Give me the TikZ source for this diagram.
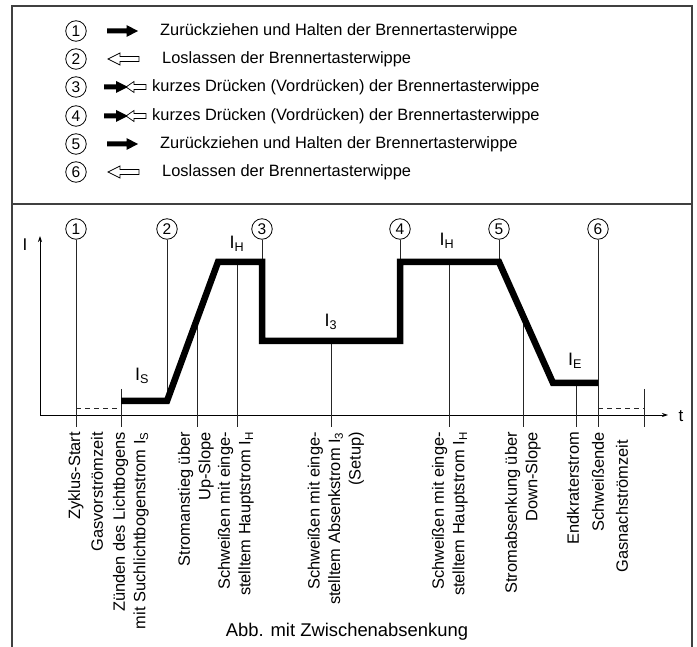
\documentclass[tikz,border=0pt]{standalone}
\usepackage{fontspec}
\setmainfont{Liberation Sans}
\usetikzlibrary{arrows.meta,calc}

\begin{document}
\begin{tikzpicture}[
  x=1pt, y=-1pt,
  frame/.style={line width=1.2pt, black!75},
  num/.style={circle, draw, line width=0.8pt, minimum size=20.5pt, inner sep=0pt, font=\fontsize{15.5}{15.5}\selectfont},
  legtext/.style={anchor=west, inner sep=0pt, font=\fontsize{16.4}{18}\selectfont},
  marker/.style={line width=0.8pt, black!85},
  gas/.style={marker, dash pattern=on 5pt off 4pt},
  current/.style={line width=6.5pt, line join=miter, line cap=butt},
  curlabel/.style={font=\fontsize{18}{18}\selectfont},
  phase/.style={rotate=90, anchor=east, align=right, inner sep=0pt, font=\fontsize{16.4}{20.5}\selectfont},
  axis/.style={line width=0.8pt, -{Stealth[length=6pt, width=4pt]}},
  pullarrow/.pic={\fill (-15.5,-2.5) -- (4,-2.5) -- (4,-6) -- (15.5,0) -- (4,6) -- (4,2.5) -- (-15.5,2.5) -- cycle;},
  releasearrow/.pic={\filldraw[fill=white, line width=0.7pt] (-15.5,0) -- (-3.5,-6) -- (-3.5,-2.5) -- (15.5,-2.5) -- (15.5,2.5) -- (-3.5,2.5) -- (-3.5,6) -- cycle;},
  pressarrow/.pic={
    \filldraw[fill=white, line width=0.7pt] (1,0) -- (9,-5.5) -- (9,-2.5) -- (21,-2.5) -- (21,2.5) -- (9,2.5) -- (9,5.5) -- cycle;
    \fill (-21,-2.5) -- (-9,-2.5) -- (-9,-6) -- (3,0) -- (-9,6) -- (-9,2.5) -- (-21,2.5) -- cycle;}
]
  \useasboundingbox (0,0) rectangle (697,647);

  % Frame (open at the bottom)
  \draw[frame] (12,647) -- (12,6) -- (692,6) -- (692,647);
  \draw[frame] (12,204) -- (692,204);

  % Legend
  \node[num] (l1) at (76,31) {1};
  \node[num] (l2) at (76,59) {2};
  \node[num] (l3) at (76,87) {3};
  \node[num] (l4) at (76,116) {4};
  \node[num] (l5) at (76,144) {5};
  \node[num] (l6) at (76,172) {6};
  \pic at (122.5,31) {pullarrow};
  \pic at (123.5,59) {releasearrow};
  \pic at (125,87) {pressarrow};
  \pic at (125,116) {pressarrow};
  \pic at (122.5,144) {pullarrow};
  \pic at (123.5,172) {releasearrow};
  \node[legtext] (t1) at (160,31) {Zurückziehen und Halten der Brennertasterwippe};
  \node[legtext] (t2) at (162,59) {Loslassen der Brennertasterwippe};
  \node[legtext] (t3) at (152,87) {kurzes Drücken (Vordrücken) der Brennertasterwippe};
  \node[legtext] (t4) at (152,116) {kurzes Drücken (Vordrücken) der Brennertasterwippe};
  \node[legtext] (t5) at (160,144) {Zurückziehen und Halten der Brennertasterwippe};
  \node[legtext] (t6) at (162,172) {Loslassen der Brennertasterwippe};

  % Axes
  \coordinate (o) at (40,415);
  \coordinate (tk) at (0,427);
  \draw[axis] (o) -- (40,236);
  \draw[axis] (o) -- (668,415);
  \node[font=\fontsize{17}{17}\selectfont] (ilabel) at (25,245) {I};
  \node[font=\fontsize{17}{17}\selectfont] (tlabel) at (681,416) {t};

  % Current curve
  \coordinate (c0) at (121,401);
  \coordinate (c1) at (167,401);
  \coordinate (c2) at (218,262);
  \coordinate (c3) at (262,262);
  \coordinate (c4) at (262,341);
  \coordinate (c5) at (400,341);
  \coordinate (c6) at (400,262);
  \coordinate (c7) at (499,262);
  \coordinate (c8) at (553,383);
  \coordinate (c9) at (598,383);
  \coordinate (u) at ($(c1)!0.59!(c2)$);
  \coordinate (d) at ($(c7)!0.46!(c8)$);

  % Switching points
  \node[num] (n1) at (76,229) {1};
  \node[num] (n2) at (167,229) {2};
  \node[num] (n3) at (262,229) {3};
  \node[num] (n4) at (400,229) {4};
  \node[num] (n5) at (499,229) {5};
  \node[num] (n6) at (598,229) {6};
  \draw[marker] (n1) -- (n1 |- tk);
  \draw[marker] (n2) -- (c1);
  \draw[marker] (n3) -- (c3);
  \draw[marker] (n4) -- (c6);
  \draw[marker] (n5) -- (c7);
  \draw[marker] (n6) -- (n6 |- tk);
  \draw[marker] (121,389) -- (121,427);
  \draw[marker] (u) -- (u |- tk);
  \draw[marker] (237,262) -- (237,427);
  \draw[marker] (331,341) -- (331,427);
  \draw[marker] (449,262) -- (449,427);
  \draw[marker] (d) -- (d |- tk);
  \draw[marker] (576,383) -- (576,427);
  \draw[marker] (644,389) -- (644,427);
  \draw[gas] (76,408) -- (121,408);
  \draw[gas] (598,408) -- (644,408);

  \draw[current] (c0) -- (c1) -- (c2) -- (c3) -- (c4) -- (c5) -- (c6) -- (c7) -- (c8) -- (c9);

  \node[curlabel] (is) at (142,376) {I\textsubscript{S}};
  \node[curlabel] (ih1) at (237,244) {I\textsubscript{H}};
  \node[curlabel] (i3) at (331,322) {I\textsubscript{3}};
  \node[curlabel] (ih2) at (447,241) {I\textsubscript{H}};
  \node[curlabel] (ie) at (575,361) {I\textsubscript{E}};

  % Phases
  \node[phase] (zs) at (76,432) {Zyklus-Start};
  \node[phase] (gv) at (97,432) {Gasvorströmzeit};
  \node[phase] (zl) at (131,432) {Zünden des Lichtbogens\\mit Suchlichtbogenstrom I\textsubscript{S}};
  \node[phase] (us) at (196,432) {Stromanstieg über\\Up-Slope};
  \node[phase] (hs1) at (236,432) {Schweißen mit einge-\\stelltem Hauptstrom I\textsubscript{H}};
  \node[phase] (as) at (336,432) {Schweißen mit einge-\\stelltem Absenkstrom I\textsubscript{3}\\(Setup)};
  \node[phase] (hs2) at (450,432) {Schweißen mit einge-\\stelltem Hauptstrom I\textsubscript{H}};
  \node[phase] (ds) at (523,432) {Stromabsenkung über\\Down-Slope};
  \node[phase] (ek) at (573,432) {Endkraterstrom};
  \node[phase] (se) at (598,432) {Schweißende};
  \node[phase] (gn) at (622,440) {Gasnachströmzeit};

  \node[font=\fontsize{18.4}{18.4}\selectfont] (caption) at (347,632) {Abb. mit Zwischenabsenkung};
\end{tikzpicture}
\end{document}
